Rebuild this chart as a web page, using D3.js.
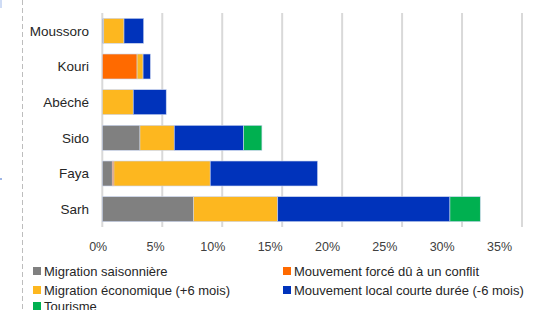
<!DOCTYPE html>
<html>
<head>
<meta charset="utf-8">
<script src="https://cdn.jsdelivr.net/npm/d3@7"></script>
<style>
  body { margin: 0; background: #fff; }
  svg { display: block; font-family: "Liberation Sans", Arial, sans-serif; }
</style>
</head>
<body>
<div class="chart"></div>
<script>
// Data ----------------------------------------------------------------------------------------------
const sites = ["Moussoro", "Kouri", "Abéché", "Sido", "Faya", "Sarh"];
const seriesNames = [
  "Migration saisonnière",
  "Mouvement forcé dû à un conflit",
  "Migration économique (+6 mois)",
  "Mouvement local courte durée (-6 mois)",
  "Tourisme"
];
const saisonniere = [0.12, 0, 0, 3.14, 0.83, 7.6];
const conflit     = [0, 2.9, 0, 0, 0.14, 0];
const economique  = [1.69, 0.5, 2.58, 2.86, 8.03, 7.03];
const localCourte = [1.64, 0.61, 2.75, 5.78, 8.95, 14.36];
const tourisme    = [0, 0, 0, 1.53, 0, 2.53];
const tickValues  = [0, 5, 10, 15, 20, 25, 30, 35];

const colors = ["#808080", "#ff6a00", "#fdb71f", "#0033bb", "#00b050"];

// Table for the stack
const table = sites.map((s, i) => ({
  site: s,
  s0: saisonniere[i], s1: conflit[i], s2: economique[i], s3: localCourte[i], s4: tourisme[i]
}));
const keys = ["s0", "s1", "s2", "s3", "s4"];
const stacked = d3.stack().keys(keys)(table);

// SVG -----------------------------------------------------------------------------------------------
const width = 546, height = 310;
const svg = d3.select(".chart").append("svg")
  .attr("width", width)
  .attr("height", height);

// page border artefacts on the left
svg.append("line")
  .attr("x1", 22.5).attr("x2", 22.5).attr("y1", 0).attr("y2", height)
  .attr("stroke", "#bdbdbd").attr("stroke-width", 1)
  .attr("stroke-dasharray", "5,3");
svg.append("rect").attr("x", 0).attr("y", 0).attr("width", 2).attr("height", 8).attr("fill", "#cfdcf5");
svg.append("rect").attr("x", 0).attr("y", 178).attr("width", 2).attr("height", 2).attr("fill", "#9fb6e6");

// Scales -------------------------------------------------------------------------------------------
const x = d3.scaleLinear().domain([0, 35]).range([102.3, 522]);
const y = d3.scaleBand().domain(sites).range([13, 227]).paddingInner(0.3).paddingOuter(0.15);
// tick labels sit on a slightly narrower spread than the gridlines in the source
const xLabel = d3.scaleLinear().domain([0, 35]).range([97.7, 499]);

// Gridlines
svg.append("g")
  .selectAll("line")
  .data(tickValues)
  .join("line")
  .attr("x1", d => x(d)).attr("x2", d => x(d))
  .attr("y1", 13).attr("y2", 227)
  .attr("stroke", "#d9d9d9")
  .attr("stroke-width", 2);

// Bars ---------------------------------------------------------------------------------------------
svg.append("g")
  .selectAll("g")
  .data(stacked)
  .join("g")
  .attr("fill", (d, i) => colors[i])
  .selectAll("rect")
  .data(d => d.filter(p => p[1] - p[0] > 0))
  .join("rect")
  .attr("x", d => x(d[0]))
  .attr("y", d => y(d.data.site))
  .attr("width", d => x(d[1]) - x(d[0]))
  .attr("height", y.bandwidth())
  .attr("stroke", "#c8d4ee")
  .attr("stroke-width", 0.6);

// Category labels
svg.append("g")
  .selectAll("text")
  .data(sites)
  .join("text")
  .attr("x", 89)
  .attr("y", d => y(d) + y.bandwidth() / 2)
  .attr("dy", "0.35em")
  .attr("text-anchor", "end")
  .attr("font-size", 13.5)
  .attr("fill", "#262626")
  .text(d => d);

// X axis labels
const xAxis = svg.append("g")
  .attr("transform", "translate(0,239)")
  .call(d3.axisBottom(xLabel).tickValues(tickValues).tickSize(0).tickFormat(d => d + "%"));
xAxis.select(".domain").remove();
xAxis.selectAll("text")
  .attr("font-size", 12.5)
  .attr("font-family", "Liberation Sans, Arial, sans-serif")
  .attr("fill", "#404040");

// Legend -------------------------------------------------------------------------------------------
const legendPos = [[33, 271], [283, 271], [33, 290], [283, 290], [33, 306]];
const legend = svg.append("g")
  .selectAll("g")
  .data(seriesNames)
  .join("g")
  .attr("transform", (d, i) => `translate(${legendPos[i][0]},${legendPos[i][1]})`);
legend.append("rect")
  .attr("x", 0).attr("y", -4)
  .attr("width", 8).attr("height", 8)
  .attr("fill", (d, i) => colors[i]);
legend.append("text")
  .attr("x", 11)
  .attr("dy", "0.35em")
  .attr("font-size", 13)
  .attr("fill", "#262626")
  .text(d => d);
</script>
</body>
</html>
